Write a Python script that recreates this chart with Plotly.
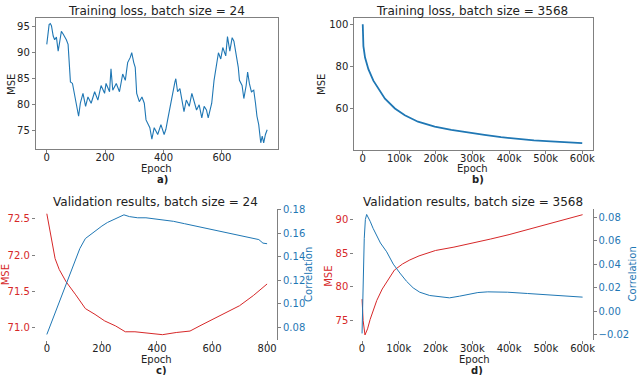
import plotly.graph_objects as go

# panel a) training loss, batch size 24
a_epoch = [0, 6, 8, 12, 16, 22, 27, 33, 39, 44, 50, 56, 61, 67, 73, 78, 81, 88, 96, 101,
           109, 115, 124, 133, 141, 152, 164, 175, 186, 198, 203, 215, 220, 226, 238, 249,
           260, 269, 277, 286, 291, 298, 303, 308, 317, 326, 334, 340, 345, 353, 360, 368,
           380, 391, 402, 408, 414, 422, 431, 439, 442, 448, 456, 465, 470, 478, 488, 497,
           505, 513, 522, 531, 539, 547, 553, 559, 565, 573, 581, 588, 596, 603, 613, 619,
           627, 635, 641, 649, 656, 660, 669, 675, 683, 688, 694, 701, 709, 715, 720, 726,
           733, 738, 743, 749, 755]
a_mse = [91.6, 94.5, 95.4, 95.6, 95.2, 93.2, 92.5, 93.0, 90.3, 92.0, 94.1, 93.6, 93.2, 92.5,
         91.6, 87.8, 84.4, 84.1, 81.9, 80.3, 77.8, 80.3, 82.2, 79.7, 81.5, 80.3, 82.5, 80.9,
         83.7, 82.2, 84.1, 82.5, 86.9, 82.8, 84.1, 82.5, 85.9, 84.7, 88.1, 89.1, 90.0, 88.1,
         87.2, 82.2, 80.6, 81.5, 80.3, 77.1, 76.5, 75.6, 73.4, 75.6, 74.3, 76.2, 74.3, 75.3,
         77.1, 79.7, 81.9, 84.4, 85.0, 82.5, 83.1, 80.3, 78.7, 80.9, 79.7, 82.2, 80.3, 79.0,
         80.0, 77.5, 79.7, 79.0, 77.5, 79.0, 80.3, 84.7, 87.2, 90.0, 88.8, 91.0, 89.4, 93.1,
         90.3, 92.9, 92.2, 89.7, 87.2, 84.7, 83.7, 81.2, 83.7, 86.3, 84.1, 82.5, 82.8, 80.3,
         77.8, 76.2, 72.7, 74.0, 72.7, 74.3, 75.2]

# panel b) training loss, batch size 3568
b_epoch = [0, 1800, 6300, 15400, 29000, 42600, 60700, 87900, 115000, 151000, 196700, 242000,
           287000, 332600, 378000, 423000, 468000, 514000, 559000, 600000]
b_mse = [100.0, 89.6, 84.1, 78.6, 73.1, 69.2, 64.5, 59.8, 56.6, 53.5, 51.1, 49.6, 48.3, 47.2,
         46.1, 45.3, 44.6, 44.1, 43.6, 43.3]

# panel c) validation, batch size 24
c_epoch_mse = [0, 10, 20, 30, 45, 70, 105, 140, 175, 210, 250, 285, 320, 370, 420, 470, 520,
               560, 600, 650, 700, 750, 800]
c_mse = [72.57, 72.38, 72.15, 71.95, 71.80, 71.63, 71.45, 71.26, 71.18, 71.09, 71.02, 70.94,
         70.94, 70.92, 70.90, 70.93, 70.95, 71.03, 71.11, 71.21, 71.30, 71.44, 71.60]
c_epoch_corr = [0, 20, 40, 60, 80, 100, 120, 140, 160, 180, 200, 220, 240, 260, 280, 300, 330,
                360, 400, 430, 460, 500, 540, 580, 620, 660, 700, 740, 770, 785, 800]
c_corr = [0.074, 0.086, 0.098, 0.111, 0.123, 0.135, 0.147, 0.1554, 0.159, 0.163, 0.166, 0.169,
          0.171, 0.173, 0.1755, 0.174, 0.173, 0.173, 0.172, 0.171, 0.170, 0.168, 0.166, 0.164,
          0.162, 0.160, 0.158, 0.156, 0.1545, 0.1515, 0.151]

# panel d) validation, batch size 3568
d_epoch_mse = [0, 3000, 8000, 15000, 22000, 30000, 40000, 55000, 70000, 88000, 110000, 130000,
               155000, 200000, 250000, 300000, 350000, 400000, 450000, 500000, 550000, 600000]
d_mse = [78.2, 75.0, 72.9, 73.8, 75.2, 76.6, 78.0, 79.7, 80.9, 82.5, 83.4, 84.0, 84.6, 85.4,
         85.9, 86.45, 87.1, 87.75, 88.5, 89.2, 89.95, 90.7]
d_epoch_corr = [0, 2000, 4000, 6000, 9000, 12500, 17000, 22000, 30000, 40000, 50000, 67000,
                85000, 103000, 121000, 139000, 157000, 184000, 211000, 238000, 265000, 290000,
                315000, 342000, 370000, 396000, 450000, 504000, 559000, 600000]
d_corr = [-0.019, 0.0, 0.035, 0.062, 0.078, 0.0823, 0.080, 0.0765, 0.0705, 0.064, 0.058, 0.0505,
          0.040, 0.0324, 0.0254, 0.0198, 0.0161, 0.0133, 0.0122, 0.0113, 0.0127, 0.0142, 0.0158,
          0.0164, 0.0163, 0.0161, 0.015, 0.0139, 0.0128, 0.0119]

k_ticks = [0, 100000, 200000, 300000, 400000, 500000, 600000]
k_labels = ['0', '100k', '200k', '300k', '400k', '500k', '600k']

titles = ['Training loss, batch size = 24', 'Training loss, batch size = 3568',
          'Validation results, batch size = 24', 'Validation results, batch size = 3568']
panel_labels = ['a)', 'b)', 'c)', 'd)']

BLUE = '#1f77b4'
RED = '#d62728'
GREY = '#808080'
FONT = 'DejaVu Sans'
W, H = 640, 375


def px(x):
    return x / W


def py(y):
    return 1 - y / H


fig = go.Figure()
fig.add_trace(go.Scatter(x=a_epoch, y=a_mse, mode='lines', line=dict(color=BLUE, width=1.1),
                         xaxis='x', yaxis='y'))
fig.add_trace(go.Scatter(x=b_epoch, y=b_mse, mode='lines', line=dict(color=BLUE, width=1.8),
                         xaxis='x2', yaxis='y2'))
fig.add_trace(go.Scatter(x=c_epoch_mse, y=c_mse, mode='lines', line=dict(color=RED, width=1),
                         xaxis='x3', yaxis='y3'))
fig.add_trace(go.Scatter(x=c_epoch_corr, y=c_corr, mode='lines', line=dict(color=BLUE, width=1),
                         xaxis='x3', yaxis='y4'))
fig.add_trace(go.Scatter(x=d_epoch_mse, y=d_mse, mode='lines', line=dict(color=RED, width=1),
                         xaxis='x4', yaxis='y5'))
fig.add_trace(go.Scatter(x=d_epoch_corr, y=d_corr, mode='lines', line=dict(color=BLUE, width=1),
                         xaxis='x4', yaxis='y6'))

tick = dict(ticks='outside', ticklen=3, tickcolor=GREY, showgrid=False, zeroline=False)
xtick = dict(tick, ticklabelstandoff=-4)
box = dict(showline=True, linecolor=GREY, linewidth=1, mirror=True)

fig.update_layout(
    width=W, height=H, margin=dict(l=0, r=0, t=0, b=0),
    plot_bgcolor='white', paper_bgcolor='white', showlegend=False,
    font=dict(family=FONT, size=10, color='#222'),
    xaxis=dict(domain=[px(36), px(279)], range=[-37.5, 791], anchor='y',
               tickvals=[0, 200, 400, 600], **xtick, **box),
    yaxis=dict(domain=[py(146), py(13)], range=[71.5, 96.7], anchor='x',
               tickvals=[75, 80, 85, 90, 95], **tick, **box),
    xaxis2=dict(domain=[px(356), px(596)], range=[-23000, 630000], anchor='y2',
                tickvals=k_ticks, ticktext=k_labels, **xtick, **box),
    yaxis2=dict(domain=[py(146.7), py(13)], range=[40.1, 103.1], anchor='x2',
                tickvals=[40, 60, 80, 100], **tick, **box),
    xaxis3=dict(domain=[px(36), px(278.3)], range=[-40, 836], anchor='y3',
                tickvals=[0, 200, 400, 600, 800], **xtick),
    yaxis3=dict(domain=[py(340), py(206.7)], range=[70.82, 72.636], anchor='x3',
                tickvals=[71.0, 71.5, 72.0, 72.5], tickformat='.1f',
                tickfont=dict(color=RED), **tick),
    yaxis4=dict(domain=[py(340), py(206.7)], range=[0.0689, 0.1805], anchor='x3',
                overlaying='y3', side='right', showline=True, linecolor=GREY,
                tickvals=[0.08, 0.10, 0.12, 0.14, 0.16, 0.18], tickformat='.2f',
                tickfont=dict(color=BLUE), **tick),
    xaxis4=dict(domain=[px(356), px(595.3)], range=[-21000, 627000], anchor='y5',
                tickvals=k_ticks, ticktext=k_labels, **xtick),
    yaxis5=dict(domain=[py(340), py(206.7)], range=[72.08, 91.55], anchor='x4',
                tickvals=[75, 80, 85, 90], tickfont=dict(color=RED), **tick),
    yaxis6=dict(domain=[py(340), py(206.7)], range=[-0.025, 0.087], anchor='x4',
                overlaying='y5', side='right', showline=True, linecolor=GREY,
                tickvals=[-0.02, 0.0, 0.02, 0.04, 0.06, 0.08], tickformat='.2f',
                tickfont=dict(color=BLUE), **tick),
)


def note(text, x, y, size=10, color='#222', angle=0, bold=False):
    if bold:
        text = '<b>' + text + '</b>'
    fig.add_annotation(text=text, x=px(x), y=py(y), xref='paper', yref='paper',
                       showarrow=False, xanchor='center', yanchor='middle', textangle=angle,
                       font=dict(family=FONT, size=size, color=color))


# titles
for t, (x, y) in zip(titles, [(157, 6), (474, 6), (156, 200), (475, 200)]):
    note(t, x, y, size=12)
# x axis titles and panel letters
for x, y in [(157.7, 166), (475, 166), (157.7, 359), (476.7, 359)]:
    note('Epoch', x, y)
for lab, (x, y) in zip(panel_labels, [(163, 177), (480, 177), (162.5, 370), (479.3, 370)]):
    note(lab, x, y, bold=True)
# y axis titles
note('MSE', 12, 80, angle=-90)
note('MSE', 323.5, 80, angle=-90)
note('MSE', 5, 273, color=RED, angle=-90)
note('MSE', 330, 275, color=RED, angle=-90)
note('Correlation', 310, 273, color=BLUE, angle=-90)
note('Correlation', 635, 273, color=BLUE, angle=-90)

# drop the page's default body margin so the figure sits at the window's corner
fig.write_html("out.html", config={'displayModeBar': False},
               post_script="document.body.style.margin='0';")
